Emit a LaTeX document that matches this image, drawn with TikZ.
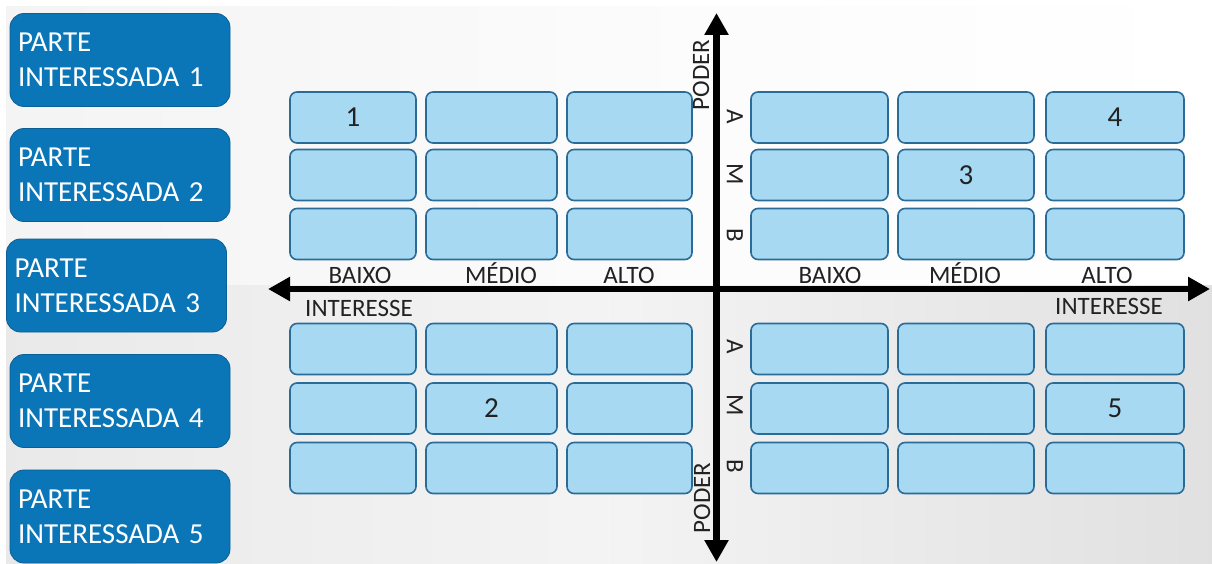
\documentclass[tikz,border=0pt]{standalone}
\usepackage{fontspec}
\setmainfont{Carlito}
\usepackage{xcolor}
\usetikzlibrary{arrows.meta,positioning}
\definecolor{pmdark}{HTML}{0B76B7}
\definecolor{pmdarkline}{HTML}{0A5F94}
\definecolor{pmlight}{HTML}{A7D9F3}
\definecolor{pmlightline}{HTML}{2A6B98}
\definecolor{pmtext}{HTML}{222222}
\tikzset{
  every picture/.append style={line cap=round,line join=round},
  pm stake/.style={rectangle,rounded corners=14pt,fill=pmdark,draw=pmdarkline,line width=0.8pt,
    text=white,text width=204pt,align=left,inner xsep=8pt,minimum height=93pt,
    font=\fontsize{29}{35}\selectfont},
  pm cell/.style={rectangle,rounded corners=7pt,fill=pmlight,draw=pmlightline,line width=1.6pt,
    minimum height=51pt,inner sep=0pt},
  pm num/.style={text=pmtext,font=\fontsize{29}{32}\selectfont},
  pm axis/.style={line width=6.5pt,line cap=butt,-{Triangle[length=22pt,width=23pt]}},
  pm label/.style={text=pmtext,font=\fontsize{25}{28}\selectfont,inner sep=0pt},
  pm level/.style={pm label,rotate=-90}
}

\begin{document}
\begin{tikzpicture}[x=1pt,y=-1pt]
  \useasboundingbox (0,0) rectangle (1212,564);
  % background
  \shade[left color=gray!9,right color=white,middle color=gray!3] (6,7) rectangle (1212,285);
  \shade[left color=gray!17,right color=gray!24,middle color=gray!9] (6,285) rectangle (1212,564);

  % grid of cells
  \foreach \cx/\cw/\col in {353/126/1,491.5/131/2,629.5/125/3,819.5/137/4,966/136/5,1115/138/6} {
    \foreach \cy/\row in {117.5/1,175/2,234/3,349/4,408.5/5,468/6} {
      \node[pm cell,minimum width=\cw] (c\row\col) at (\cx,\cy) {};
    }
  }
  \node[pm num] (n1) at (c11) {1};
  \node[pm num] (n2) at (c52) {2};
  \node[pm num] (n3) at (c25) {3};
  \node[pm num] (n4) at (c16) {4};
  \node[pm num] (n5) at (c56) {5};

  % axes
  \coordinate (o) at (716.5,289);
  \coordinate (xl) at (268,289);
  \coordinate (xr) at (1210,289);
  \coordinate (yt) at (716.5,13);
  \coordinate (yb) at (716.5,562);
  \draw[pm axis] (o) -- (xl);
  \draw[pm axis] (o) -- (xr);
  \draw[pm axis] (o) -- (yt);
  \draw[pm axis] (o) -- (yb);

  % interest labels
  \foreach \lx/\lab/\nm in {360/BAIXO/lb,501/MÉDIO/mb,629/ALTO/hb,830/BAIXO/rb,965/MÉDIO/rm,1107/ALTO/rh} {
    \node[pm label,anchor=base] (\nm) at (\lx,283) {\lab};
  }
  \node[pm label,anchor=base] (intl) at (359,316) {INTERESSE};
  \node[pm label,anchor=base] (intr) at (1109,314) {INTERESSE};

  % power labels
  \node[pm label,rotate=90] (podt) at (701,75) {PODER};
  \node[pm label,rotate=90] (podb) at (702,498) {PODER};
  \foreach \lv/\yy in {A/117,M/174,B/235} {
    \node[pm level] (top\lv) at (735,\yy) {\lv};
  }
  \foreach \lv/\yy in {A/347,M/405,B/466} {
    \node[pm level] (bot\lv) at (735,\yy) {\lv};
  }

  % stakeholders
  \foreach \i/\xx/\yy in {1/120/60,2/120/175,3/116.5/285.5,4/120/401,5/120/516.5} {
    \node[pm stake] (s\i) at (\xx,\yy) {PARTE\\INTERESSADA \i};
  }
\end{tikzpicture}
\end{document}
